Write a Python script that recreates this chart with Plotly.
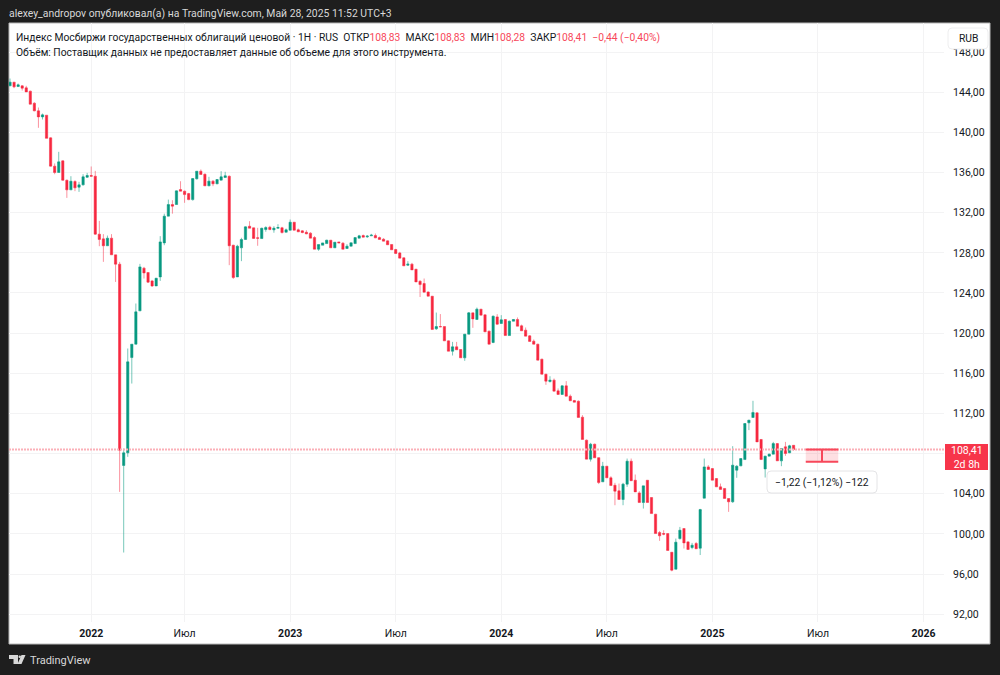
"""
Weekly candles of the Moscow Exchange government bond price index, TradingView style.
"""

import plotly.graph_objects as go

open_prices = [
    144.63, 145.0, 144.56, 144.63, 144.43, 144.1, 142.9, 142.14, 141.54, 141.71,
    139.45, 136.63, 136.0, 137.16, 135.23, 134.27, 135.1, 134.54, 134.77, 135.53,
    135.7, 135.63, 129.86, 129.39, 128.7, 129.46, 127.8, 126.87, 106.82, 108.08,
    117.57, 118.9, 122.22, 126.47, 126.04, 125.2, 124.7, 125.6, 128.99, 131.65,
    132.81, 132.81, 134.3, 134.14, 133.9, 133.3, 135.37, 136.13, 135.83, 134.67,
    135.14, 134.87, 135.24, 135.5, 135.63, 128.76, 125.6, 128.5, 129.33, 130.65,
    130.49, 129.5, 129.42, 130.32, 130.55, 130.29, 130.45, 130.49, 130.05, 130.25,
    131.05, 130.29, 130.19, 130.05, 129.96, 129.52, 128.36, 128.76, 128.92, 129.26,
    128.5, 129.09, 128.96, 128.43, 128.66, 128.92, 129.46, 129.72, 129.59, 129.69,
    129.72, 129.52, 129.36, 129.19, 128.83, 128.33, 127.99, 127.5, 126.77, 126.87,
    126.37, 125.17, 124.94, 124.1, 123.68, 120.43, 120.66, 120.66, 119.23, 118.2,
    118.64, 118.37, 117.54, 119.9, 122.02, 121.36, 122.39, 121.82, 120.2, 119.07,
    121.62, 120.96, 121.36, 119.76, 121.19, 121.36, 120.73, 120.3, 119.73, 119.2,
    118.9, 117.41, 115.91, 115.18, 115.32, 114.25, 113.89, 114.75, 113.72, 113.29,
    113.22, 111.63, 109.34, 107.45, 108.94, 107.6, 105.19, 106.75, 105.59, 104.85,
    104.29, 103.43, 104.96, 107.25, 105.35, 104.09, 103.13, 105.35, 103.63, 101.97,
    100.14, 100.04, 100.04, 98.18, 96.49, 99.54, 100.54, 99.21, 98.65, 99.05,
    98.58, 103.56, 106.68, 106.51, 105.52, 104.69, 104.53, 103.53, 103.2, 106.35,
    106.78, 107.41, 111.07, 111.6, 112.06, 109.41, 106.48, 107.75, 107.95, 109.0,
    107.28, 108.68, 108.08, 108.83,
]
high_prices = [
    145.36, 145.0, 144.86, 144.7, 144.63, 144.15, 143.0, 142.47, 141.87, 141.71,
    139.5, 136.9, 138.06, 137.2, 135.3, 135.63, 135.23, 135.07, 135.83, 135.96,
    136.6, 136.16, 131.18, 129.86, 129.72, 129.86, 127.8, 127.1, 108.5, 118.47,
    118.9, 122.95, 126.9, 126.6, 126.04, 125.3, 125.5, 129.66, 131.9, 133.3,
    133.24, 134.2, 135.13, 134.2, 133.97, 135.45, 136.13, 136.3, 135.9, 135.57,
    135.24, 135.34, 136.13, 136.07, 135.7, 128.8, 128.8, 129.5, 130.63, 131.15,
    130.5, 130.49, 130.5, 130.65, 130.69, 130.65, 130.85, 130.59, 130.42, 131.32,
    131.05, 130.42, 130.25, 130.25, 130.05, 129.66, 128.83, 129.0, 129.3, 129.26,
    129.06, 129.09, 129.06, 128.86, 129.0, 129.52, 129.79, 129.82, 129.76, 129.89,
    129.92, 129.62, 129.46, 129.23, 128.85, 128.4, 128.1, 127.53, 127.17, 127.0,
    126.4, 125.27, 125.44, 124.15, 123.7, 122.05, 121.9, 120.66, 119.26, 119.13,
    119.13, 118.4, 119.9, 122.1, 122.02, 122.55, 122.39, 121.85, 120.25, 121.75,
    121.89, 121.79, 121.4, 121.25, 121.4, 121.56, 120.85, 120.56, 119.8, 119.37,
    118.95, 117.45, 115.95, 115.71, 115.48, 114.49, 114.8, 115.22, 113.89, 113.35,
    113.3, 111.83, 109.4, 109.07, 109.0, 107.62, 107.18, 106.75, 105.75, 105.09,
    105.02, 105.09, 107.51, 107.51, 105.92, 104.26, 104.79, 105.35, 103.65, 102.0,
    100.3, 100.37, 100.04, 98.2, 99.54, 100.7, 100.54, 99.3, 99.11, 99.2,
    102.5, 107.51, 106.85, 106.55, 105.55, 105.02, 104.55, 103.55, 108.74, 106.85,
    107.55, 111.05, 111.37, 113.26, 112.1, 109.45, 107.78, 108.0, 109.17, 109.05,
    108.55, 109.17, 108.88, 108.83,
]
low_prices = [
    144.63, 144.4, 144.53, 144.16, 144.03, 142.8, 142.1, 140.45, 141.28, 139.4,
    136.6, 135.83, 136.0, 135.2, 133.47, 134.27, 134.14, 134.07, 134.7, 135.47,
    135.63, 129.8, 128.66, 127.1, 128.7, 127.8, 125.1, 104.19, 98.15, 107.68,
    114.98, 118.9, 122.2, 125.44, 125.0, 124.6, 124.7, 125.2, 128.76, 131.65,
    131.9, 132.8, 134.14, 132.98, 133.24, 133.2, 135.3, 135.8, 134.67, 134.64,
    134.64, 134.84, 135.24, 135.5, 126.77, 125.4, 125.6, 127.17, 129.3, 130.45,
    129.4, 128.7, 129.4, 130.1, 130.25, 130.0, 130.42, 129.92, 130.05, 130.25,
    130.25, 130.09, 129.95, 129.85, 129.46, 128.36, 128.2, 128.76, 128.9, 128.5,
    128.5, 128.99, 128.36, 128.43, 128.66, 128.92, 129.46, 129.56, 129.49, 129.69,
    129.46, 129.33, 129.16, 128.8, 128.3, 127.9, 127.47, 126.7, 126.7, 126.3,
    125.1, 123.6, 124.08, 123.68, 120.36, 120.33, 120.6, 119.23, 118.2, 117.77,
    118.34, 117.54, 117.24, 119.9, 120.53, 121.36, 121.79, 120.13, 118.9, 119.0,
    120.85, 120.96, 119.76, 119.76, 121.19, 120.69, 120.23, 119.7, 119.17, 118.9,
    117.31, 115.91, 114.85, 115.08, 114.22, 113.89, 113.89, 113.72, 113.26, 113.12,
    111.6, 109.41, 107.45, 107.21, 107.58, 104.97, 105.19, 105.59, 104.82, 102.86,
    103.43, 102.86, 104.69, 105.3, 104.19, 103.13, 102.53, 103.13, 102.03, 100.04,
    99.31, 99.87, 98.35, 96.28, 96.49, 99.44, 98.55, 98.45, 98.48, 98.52,
    97.9, 103.56, 106.42, 105.35, 104.69, 104.43, 103.53, 102.2, 103.1, 105.59,
    106.75, 107.41, 110.34, 111.6, 109.17, 107.41, 105.62, 107.75, 107.95, 107.28,
    106.75, 107.78, 108.05, 108.28,
]
close_prices = [
    145.0, 144.53, 144.73, 144.4, 144.03, 142.8, 142.14, 141.54, 141.74, 139.4,
    136.63, 136.0, 137.06, 135.23, 134.27, 135.13, 134.47, 134.77, 135.57, 135.7,
    135.63, 129.86, 129.33, 128.7, 129.46, 127.8, 126.87, 108.34, 108.08, 117.14,
    118.9, 122.12, 126.6, 126.0, 125.08, 124.7, 125.47, 129.09, 131.65, 132.81,
    132.65, 134.17, 134.14, 133.8, 133.3, 135.4, 136.13, 135.8, 134.67, 135.14,
    134.87, 135.3, 135.57, 135.67, 128.7, 125.54, 128.66, 129.33, 130.59, 130.45,
    129.43, 129.45, 130.45, 130.52, 130.32, 130.45, 130.52, 130.02, 130.29, 131.05,
    130.25, 130.09, 130.02, 129.89, 129.46, 128.36, 128.83, 128.99, 129.26, 128.5,
    129.06, 128.99, 128.36, 128.66, 129.0, 129.52, 129.69, 129.56, 129.66, 129.76,
    129.49, 129.33, 129.16, 128.8, 128.3, 127.93, 127.47, 126.7, 126.87, 126.3,
    125.1, 124.84, 124.08, 123.68, 120.36, 120.66, 120.63, 119.23, 118.2, 118.64,
    118.34, 117.54, 119.9, 122.02, 121.42, 122.39, 121.79, 120.13, 118.9, 121.69,
    120.89, 121.33, 119.76, 121.19, 121.36, 120.69, 120.23, 119.7, 119.17, 118.9,
    117.31, 115.91, 115.22, 115.32, 114.22, 113.89, 114.75, 113.72, 113.26, 113.12,
    111.6, 109.41, 107.45, 108.94, 107.58, 105.12, 106.75, 105.59, 104.82, 104.26,
    103.43, 104.96, 107.25, 105.3, 104.19, 103.13, 104.79, 103.13, 102.03, 100.04,
    99.81, 99.98, 98.35, 96.39, 99.18, 100.37, 99.11, 98.45, 98.88, 98.52,
    102.43, 106.68, 106.42, 105.35, 104.69, 104.43, 103.53, 103.2, 106.85, 106.75,
    107.51, 111.0, 111.33, 112.1, 109.17, 107.41, 107.75, 107.95, 109.0, 107.28,
    108.51, 108.01, 108.78, 108.41,
]

x_tick_positions = [20, 43, 69, 95, 121, 147, 173, 199, 225]
x_tick_labels = ["<b>2022</b>", "Июл", "<b>2023</b>", "Июл", "<b>2024</b>", "Июл", "<b>2025</b>", "Июл", "<b>2026</b>"]
price_ticks = [92, 96, 100, 104, 108, 112, 116, 120, 124, 128, 132, 136, 140, 144, 148]
# the 108 label sits under the last price badge, so it stays blank
price_tick_labels = ["92,00", "96,00", "100,00", "104,00", "", "112,00", "116,00", "120,00",
                     "124,00", "128,00", "132,00", "136,00", "140,00", "144,00", "148,00"]
last_price = 108.41
measure_low = 107.19

WIDTH, HEIGHT = 1000, 675
LEFT, RIGHT, TOP, BOTTOM = 9, 944, 23, 622  # plot area in page pixels
X_RANGE = [-0.25, 230.05]
FONT = "Roboto, sans-serif"
RED = "#f7283f"
GREEN = "#089981"
FRAME = "#1e1e1e"
TEXT = "#131722"


def px(x):
    # page pixels to paper coordinates, which count from the plot area
    return (x - LEFT) / (RIGHT - LEFT)


def py(y):
    return (BOTTOM - y) / (BOTTOM - TOP)


def rounded_box(x0, y0, x1, y1, r, **kw):
    # rounded rectangle given in page pixels
    path = (
        f"M {px(x0 + r)} {py(y0)} L {px(x1 - r)} {py(y0)} Q {px(x1)} {py(y0)} {px(x1)} {py(y0 + r)} "
        f"L {px(x1)} {py(y1 - r)} Q {px(x1)} {py(y1)} {px(x1 - r)} {py(y1)} "
        f"L {px(x0 + r)} {py(y1)} Q {px(x0)} {py(y1)} {px(x0)} {py(y1 - r)} "
        f"L {px(x0)} {py(y0 + r)} Q {px(x0)} {py(y0)} {px(x0 + r)} {py(y0)} Z"
    )
    return dict(type="path", xref="paper", yref="paper", path=path, **kw)


def page_rect(x0, y0, x1, y1, **kw):
    return dict(type="rect", xref="paper", yref="paper", x0=px(x0), x1=px(x1), y0=py(y1), y1=py(y0), **kw)


def page_text(x, y, text, size=10.3, color=TEXT, anchor="left", **kw):
    return dict(
        xref="paper", yref="paper", x=px(x), y=py(y), text=text, showarrow=False,
        xanchor=anchor, yanchor="middle", borderpad=0, borderwidth=0,
        font=dict(family=FONT, size=size, color=color), **kw
    )


fig = go.Figure()

# Last price line, under the candles
fig.add_trace(
    go.Scatter(
        x=X_RANGE,
        y=[last_price, last_price],
        mode="lines",
        line=dict(color="#fbb0b8", width=2, dash="2px,1px"),
        hoverinfo="skip",
        showlegend=False,
    )
)

fig.add_trace(
    go.Candlestick(
        x=list(range(len(open_prices))),
        open=open_prices,
        high=high_prices,
        low=low_prices,
        close=close_prices,
        increasing=dict(line=dict(color="rgba(8,153,129,0.55)", width=1), fillcolor=GREEN),
        decreasing=dict(line=dict(color="rgba(247,40,63,0.5)", width=1), fillcolor=RED),
        showlegend=False,
    )
)

shapes = [
    # white page panel and its border
    page_rect(9, 23, 990, 644, fillcolor="#ffffff", line=dict(color="#b8b8b8", width=1), layer="below"),
    # measure tool
    dict(type="rect", xref="x", yref="y", x0=196, x1=204, y0=measure_low, y1=last_price,
         fillcolor="rgba(247,40,63,0.15)", line=dict(width=0)),
    dict(type="line", xref="x", yref="y", x0=196, x1=204, y0=last_price, y1=last_price, line=dict(color="#f7475a", width=2)),
    dict(type="line", xref="x", yref="y", x0=196, x1=204, y0=measure_low, y1=measure_low, line=dict(color="#f7475a", width=2)),
    dict(type="line", xref="x", yref="y", x0=200, x1=200, y0=measure_low, y1=last_price, line=dict(color="#f7475a", width=2)),
    # measure callout, price badge, currency button
    rounded_box(767, 471, 877, 493, 4, fillcolor="#ffffff", line=dict(color="#e4e4e6", width=1)),
    page_rect(945, 444, 988, 470, fillcolor="#f7354a", line=dict(width=0)),
    rounded_box(948, 28, 988, 49, 4, fillcolor="#ffffff", line=dict(color="#eeeeef", width=1)),
    # TradingView logo
    dict(type="path", xref="paper", yref="paper", fillcolor="#d8d8d8", line=dict(width=0),
         path=f"M {px(9)} {py(655)} L {px(18)} {py(655)} L {px(18)} {py(664)} L {px(13.5)} {py(664)} "
              f"L {px(13.5)} {py(659)} L {px(9)} {py(659)} Z"),
    dict(type="circle", xref="paper", yref="paper", fillcolor="#d8d8d8", line=dict(width=0),
         x0=px(18.5), x1=px(21), y0=py(658), y1=py(655.5)),
    dict(type="path", xref="paper", yref="paper", fillcolor="#d8d8d8", line=dict(width=0),
         path=f"M {px(21.5)} {py(655)} L {px(25.5)} {py(655)} L {px(21.5)} {py(664)} L {px(17.5)} {py(664)} Z"),
]

value_style = '<span style="color:#f7475a">'
legend_line = (
    "Индекс Мосбиржи государственных облигаций ценовой · 1H · RUS  "
    f"ОТКР{value_style}108,83</span>  МАКС{value_style}108,83</span>  "
    f"МИН{value_style}108,28</span>  ЗАКР{value_style}108,41  −0,44 (−0,40%)</span>"
)

annotations = [
    page_text(9, 13, "alexey_andropov опубликовал(а) на TradingView.com, Май 28, 2025 11:52 UTC+3", size=10.4, color="#d8d8d8"),
    page_text(16, 37, legend_line),
    page_text(16, 52, "Объём: Поставщик данных не предоставляет данные об объеме для этого инструмента."),
    page_text(822, 482, "−1,22 (−1,12%) −122", anchor="center"),
    page_text(968, 38.5, "RUB", anchor="center"),
    page_text(966.5, 457, "108,41<br>2d 8h", size=10.5, color="#ffffff", anchor="center"),
    page_text(29.5, 660, "TradingView", size=11, color="#d8d8d8"),
]

fig.update_layout(
    width=WIDTH,
    height=HEIGHT,
    margin=dict(l=LEFT, r=WIDTH - RIGHT, t=TOP, b=HEIGHT - BOTTOM, autoexpand=False),
    paper_bgcolor=FRAME,
    plot_bgcolor="#ffffff",
    boxgap=0.2,
    shapes=shapes,
    annotations=annotations,
    font=dict(family=FONT, size=10.5, color=TEXT),
)

fig.update_xaxes(
    range=X_RANGE,
    rangeslider_visible=False,
    tickmode="array",
    tickvals=x_tick_positions,
    ticktext=x_tick_labels,
    ticks="outside",
    ticklen=1,
    tickcolor="rgba(0,0,0,0)",
    gridcolor="#f3f3f4",
    zeroline=False,
)
fig.update_yaxes(
    range=[91.23, 150.89],
    side="right",
    tickmode="array",
    tickvals=price_ticks,
    ticktext=price_tick_labels,
    ticks="outside",
    ticklen=6,
    tickcolor="rgba(0,0,0,0)",
    gridcolor="#f3f3f4",
    zeroline=False,
)

fig.write_html(
    "out.html",
    config={"displayModeBar": False},
    post_script="document.body.style.margin = '0';",
)
